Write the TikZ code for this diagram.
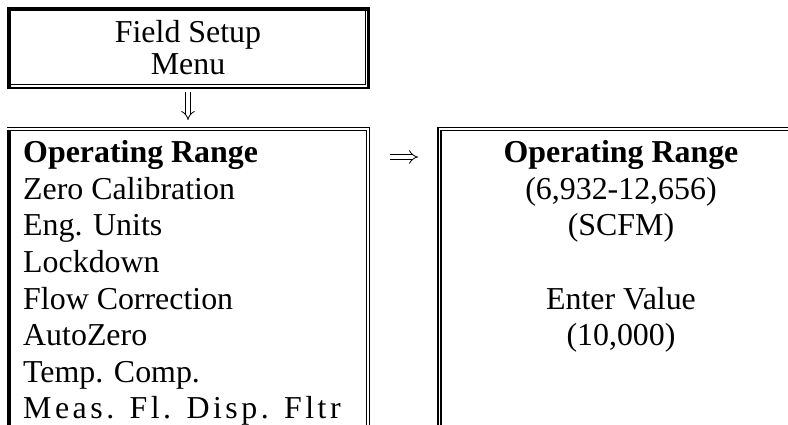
\documentclass[tikz,border=0pt]{standalone}
\usepackage{fontspec}
\setmainfont{Liberation Serif}
\usetikzlibrary{arrows.meta}
\begin{document}
\begin{tikzpicture}[x=1pt,y=-1pt,
  lbl/.style={inner sep=0pt, font=\fontsize{31.9}{36.5}\selectfont},
  heavyrule/.style={line width=3.5pt},
  lightrule/.style={line width=1.1pt},
  midrule/.style={line width=2.2pt},
  dblrule/.style={double, double distance=1.7pt, line width=1.3pt},
  flowarrow/.style={double, double distance=4pt, line width=0.8pt, -{Implies}},
]
\useasboundingbox (0,0) rectangle (788,425);
\clip (0,0) rectangle (788,425);

% --- Field Setup Menu box: heavy top/left, thin-thick right/bottom
\draw[heavyrule] (7,9) -- (367,9);
\draw[heavyrule] (8.75,7) -- (8.75,88);
\draw[lightrule] (365.5,10.5) -- (365.5,84.5) -- (10.5,84.5);
\draw[midrule] (368.4,7) -- (368.4,88.1) -- (7,88.1);

\node[lbl, anchor=base] (fs1) at (188,43) {Field Setup};
\node[lbl, anchor=base] (fs2) at (188,75) {Menu};

% --- menu list box
\draw[heavyrule] (8.75,127) -- (8.75,430);
\draw[dblrule] (7,129) -- (368,129) -- (368,430);

\node[lbl, anchor=base west] (m1) at (23,163)   {\bfseries Operating Range};
\node[lbl, anchor=base west] (m2) at (23,199.5) {Zero Calibration};
\node[lbl, anchor=base west] (m3) at (23,236)   {Eng. Units};
\node[lbl, anchor=base west] (m4) at (23,272.5) {Lockdown};
\node[lbl, anchor=base west] (m5) at (23,309)   {Flow Correction};
\node[lbl, anchor=base west] (m6) at (23,345.5) {AutoZero};
\node[lbl, anchor=base west] (m7) at (23,382)   {Temp. Comp.};
\node[lbl, anchor=base west] (m8) at (23,418.5) {\addfontfeature{LetterSpace=11}Meas. Fl. Disp. Fltr};

% --- value entry box
\draw[dblrule] (439.5,430) -- (439.5,129) -- (800,129);

\node[lbl, anchor=base] (v1) at (621,163)   {\bfseries Operating Range};
\node[lbl, anchor=base] (v2) at (621,199.5) {(6,932-12,656)};
\node[lbl, anchor=base] (v3) at (621,236)   {(SCFM)};
\node[lbl, anchor=base] (v4) at (621,309)   {Enter Value};
\node[lbl, anchor=base] (v5) at (621,345.5) {(10,000)};

% --- flow arrows
\coordinate (setupOut) at (188,92);
\coordinate (listIn)   at (188,120);
\coordinate (listOut)  at (390,157);
\coordinate (valueIn)  at (418,157);
\draw[flowarrow] (setupOut) -- (listIn);
\draw[flowarrow] (listOut) -- (valueIn);
\end{tikzpicture}
\end{document}
